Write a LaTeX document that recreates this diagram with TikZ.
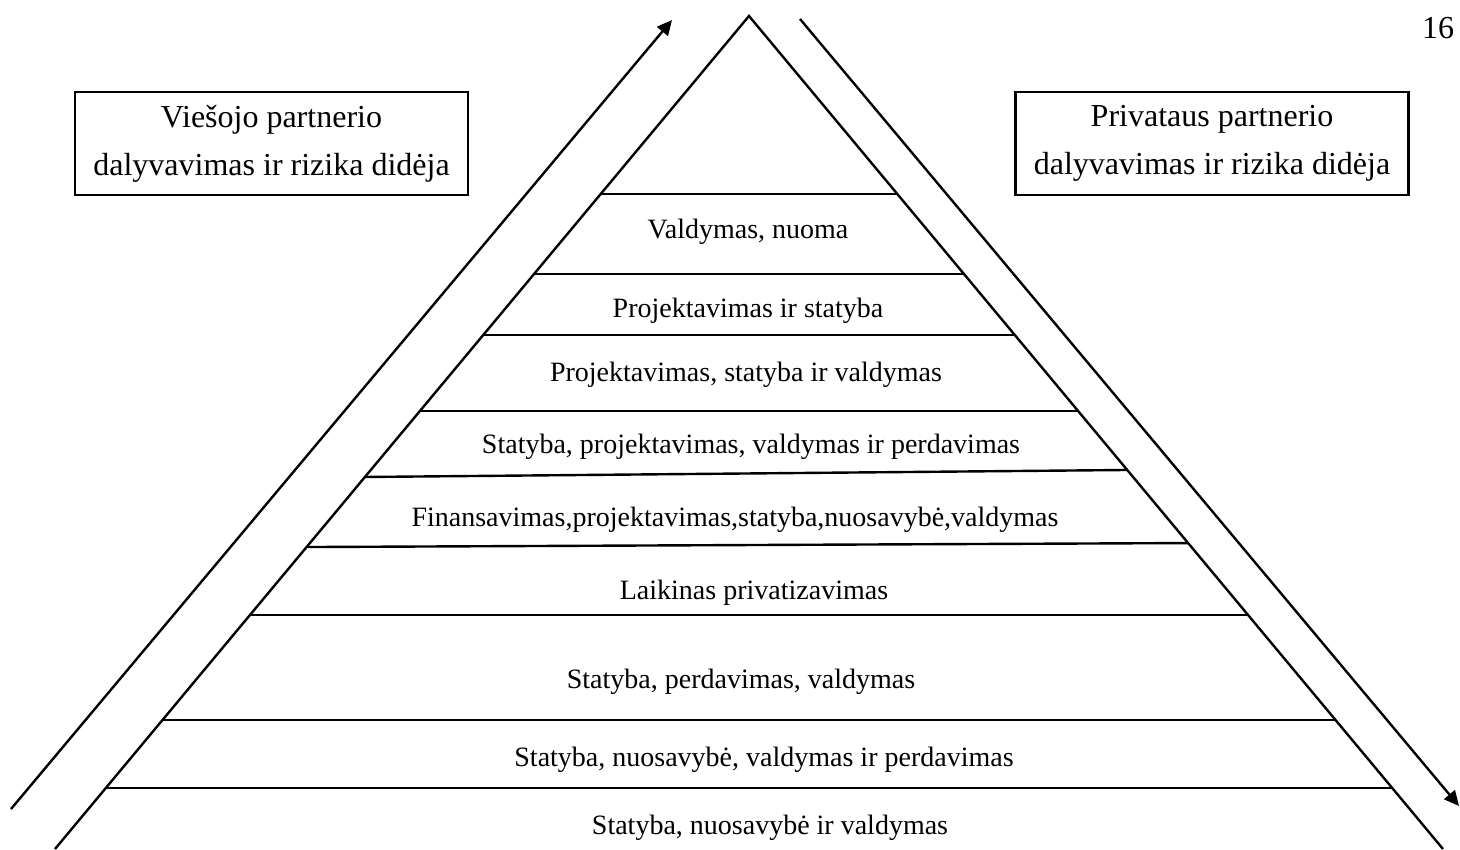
\documentclass[tikz,border=0pt]{standalone}
\usepackage{fontspec}
\setmainfont{Liberation Serif}
\usetikzlibrary{arrows.meta,calc}

\begin{document}
\begin{tikzpicture}[x=0.5pt,y=-0.5pt,line width=1.2pt]
\useasboundingbox (0,0) rectangle (1460,850);

% pyramid
\coordinate (top) at (749,16);
\coordinate (bl) at (55,849);
\coordinate (br) at (1443,849);
\draw (bl) -- (top) -- (br);

% levels
\draw ($(top)!0.2137!(bl)$) -- ($(top)!0.2137!(br)$);
\draw ($(top)!0.3097!(bl)$) -- ($(top)!0.3097!(br)$);
\draw ($(top)!0.3830!(bl)$) -- ($(top)!0.3830!(br)$);
\draw ($(top)!0.4742!(bl)$) -- ($(top)!0.4742!(br)$);
\draw ($(top)!0.5534!(bl)$) -- ($(top)!0.5450!(br)$);
\draw ($(top)!0.6375!(bl)$) -- ($(top)!0.6327!(br)$);
\draw ($(top)!0.7191!(bl)$) -- ($(top)!0.7191!(br)$);
\draw ($(top)!0.8451!(bl)$) -- ($(top)!0.8451!(br)$);
\draw ($(top)!0.9268!(bl)$) -- ($(top)!0.9268!(br)$);

\begin{scope}[every node/.style={inner sep=0pt,font=\fontsize{14}{16}\selectfont}]
  \node (VN) at (748,232) {Valdymas, nuoma};
  \node (PS) at (748,311) {Projektavimas ir statyba};
  \node (PSV) at (746,375) {Projektavimas, statyba ir valdymas};
  \node (SPVP) at (751,447) {Statyba, projektavimas, valdymas ir perdavimas};
  \node (FPSNV) at (735,520) {Finansavimas,projektavimas,statyba,nuosavybė,valdymas};
  \node (LP) at (754,593) {Laikinas privatizavimas};
  \node (SPV) at (741,682) {Statyba, perdavimas, valdymas};
  \node (SNVP) at (764,760) {Statyba, nuosavybė, valdymas ir perdavimas};
  \node (SNV) at (770,828) {Statyba, nuosavybė ir valdymas};
\end{scope}

\begin{scope}[every node/.style={draw,align=center,minimum width=196.5pt,
              minimum height=51.5pt,font=\fontsize{16}{24}\selectfont}]
  \node (viesas) at (271.5,143.5) {Viešojo partnerio\\dalyvavimas ir rizika didėja};
  \node (privatus) at (1212,143.5) {Privataus partnerio\\dalyvavimas ir rizika didėja};
\end{scope}

\node[inner sep=0pt,font=\fontsize{16}{18}\selectfont] (psl) at (1438,28) {16};

% arrows
\coordinate (va) at (11,809);
\coordinate (vb) at (672,20);
\coordinate (pa) at (800,19);
\coordinate (pb) at (1459,806);
\begin{scope}[>={Triangle[length=7.5pt,width=7pt]}]
  \draw [->] (va) -- (vb);
  \draw [->] (pa) -- (pb);
\end{scope}
\end{tikzpicture}
\end{document}
